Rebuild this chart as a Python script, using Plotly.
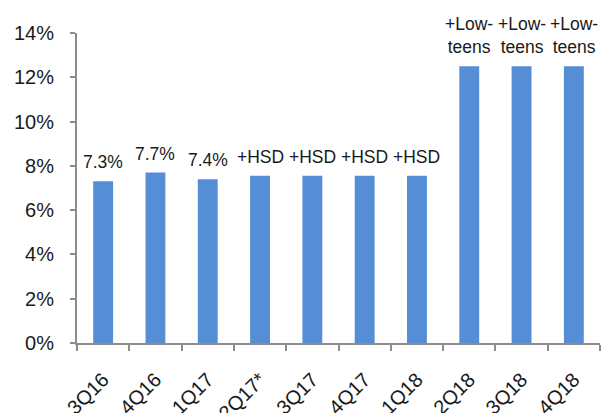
import plotly.graph_objects as go

categories = ["3Q16", "4Q16", "1Q17", "2Q17*", "3Q17", "4Q17", "1Q18", "2Q18", "3Q18", "4Q18"]
values = [7.3, 7.7, 7.4, 7.55, 7.55, 7.55, 7.55, 12.5, 12.5, 12.5]
bar_labels = ["7.3%", "7.7%", "7.4%", "+HSD", "+HSD", "+HSD", "+HSD",
              "+Low-<br>teens", "+Low-<br>teens", "+Low-<br>teens"]
y_ticks = [0, 2, 4, 6, 8, 10, 12, 14]
y_tick_labels = [f"{v}%" for v in y_ticks]

FONT = "Liberation Sans, Arial, sans-serif"
AXIS = "#8c8c8c"

fig = go.Figure()
fig.add_trace(go.Bar(
    x=categories, y=values,
    marker=dict(color="#558ed5", line=dict(width=0)),
    hoverinfo="skip",
))

for c, v, t in zip(categories, values, bar_labels):
    fig.add_annotation(
        x=c, y=v, text=t, showarrow=False,
        xanchor="center", yanchor="bottom", yshift=7,
        font=dict(family=FONT, size=17.5, color="#1a1a1a"),
    )

fig.update_layout(
    width=601, height=413,
    margin=dict(l=77, r=1, t=33, b=70),
    paper_bgcolor="white", plot_bgcolor="white",
    bargap=0.62,
    showlegend=False,
    font=dict(family=FONT, color="#1a1a1a"),
    xaxis=dict(
        type="category",
        tickangle=-45,
        tickfont=dict(family=FONT, size=20, color="#1a1a1a"),
        showline=True, linecolor=AXIS, linewidth=2,
        ticks="outside", tickson="boundaries", ticklen=6, tickcolor=AXIS, tickwidth=2,
        showgrid=False, zeroline=False,
        ticklabelstandoff=15,
        automargin=False,
    ),
    yaxis=dict(
        range=[0, 14],
        tickvals=y_ticks, ticktext=y_tick_labels,
        tickfont=dict(family=FONT, size=20, color="#1a1a1a"),
        showline=True, linecolor=AXIS, linewidth=2,
        ticks="outside", ticklen=5, tickcolor=AXIS, tickwidth=2,
        showgrid=False, zeroline=False,
        ticklabelstandoff=12,
        automargin=False,
    ),
)

fig.write_html("out.html")
